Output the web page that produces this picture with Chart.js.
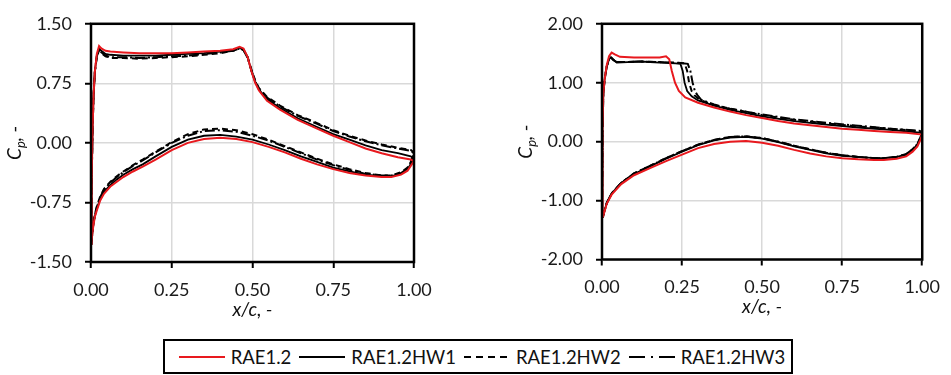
<!DOCTYPE html>
<html>
<head>
<meta charset="utf-8">
<script src="https://cdn.jsdelivr.net/npm/chart.js@4.4.1/dist/chart.umd.min.js"></script>
<style>
  body { margin: 0; background: #fff; width: 951px; height: 375px; position: relative; overflow: hidden; font-family: Lato, sans-serif; }
  #cpLeft { position: absolute; left: 0; top: 0; }
  #cpRight { position: absolute; left: 480px; top: 0; }
  #legend { position: absolute; left: 163px; top: 339px; width: 626px; height: 31px; border: 2px solid #000;
            display: flex; align-items: center; justify-content: center; font-size: 18.5px; color: #111; }
  #legend svg { margin: 0 6px 0 8px; }
</style>
</head>
<body>
<canvas id="cpLeft" width="480" height="330"></canvas>
<canvas id="cpRight" width="471" height="330"></canvas>
<div id="legend">
  <svg width="46" height="10"><line x1="0" y1="5" x2="46" y2="5" stroke="#e8191e" stroke-width="2"/></svg><span>RAE1.2</span>
  <svg width="46" height="10"><line x1="0" y1="5" x2="46" y2="5" stroke="#000" stroke-width="2"/></svg><span>RAE1.2HW1</span>
  <svg width="46" height="10"><line x1="0" y1="5" x2="46" y2="5" stroke="#000" stroke-width="2" stroke-dasharray="7,5"/></svg><span>RAE1.2HW2</span>
  <svg width="46" height="10"><line x1="0" y1="5" x2="46" y2="5" stroke="#000" stroke-width="2" stroke-dasharray="16,6,2,6"/></svg><span>RAE1.2HW3</span>
</div>
<script>
// series names
const seriesNames = ['RAE1.2', 'RAE1.2HW1', 'RAE1.2HW2', 'RAE1.2HW3'];

// axis ticks
const xTicks = [0, 0.25, 0.5, 0.75, 1];
const leftYTicks = [-1.5, -0.75, 0, 0.75, 1.5];
const rightYTicks = [-2, -1, 0, 1, 2];

// ---- left plot, [x/c, Cp] upper surface (LE -> TE) then lower surface (TE -> LE)
const leftRaeUpper = [[0,-1.27],[0.002,-0.5],[0.005,0.2],[0.008,0.6],[0.012,0.9],[0.018,1.12],[0.025,1.22],[0.032,1.19],[0.045,1.16],[0.06,1.15],[0.1,1.14],[0.15,1.13],[0.2,1.13],[0.25,1.13],[0.3,1.14],[0.35,1.15],[0.4,1.16],[0.44,1.18],[0.46,1.21],[0.472,1.19],[0.485,1.08],[0.497,0.9],[0.508,0.76],[0.52,0.66],[0.545,0.53],[0.585,0.42],[0.64,0.29],[0.7,0.18],[0.75,0.09],[0.8,0.01],[0.85,-0.07],[0.9,-0.13],[0.95,-0.18],[0.99,-0.21],[1.0,-0.23]];
const leftRaeLower = [[1.0,-0.23],[0.99,-0.29],[0.98,-0.35],[0.96,-0.4],[0.93,-0.43],[0.9,-0.43],[0.85,-0.41],[0.8,-0.38],[0.75,-0.33],[0.7,-0.27],[0.65,-0.2],[0.6,-0.12],[0.55,-0.05],[0.5,0.01],[0.45,0.05],[0.4,0.065],[0.35,0.05],[0.3,0.0],[0.25,-0.09],[0.2,-0.21],[0.16,-0.3],[0.13,-0.36],[0.1,-0.43],[0.08,-0.49],[0.06,-0.55],[0.04,-0.64],[0.028,-0.73],[0.018,-0.85],[0.012,-0.93],[0.007,-1.05],[0.004,-1.15],[0.001,-1.27],[0,-1.27]];

const leftHw1Upper = [[0,-1.27],[0.002,-0.5],[0.005,0.2],[0.008,0.6],[0.012,0.9],[0.018,1.1],[0.025,1.19],[0.032,1.16],[0.045,1.12],[0.06,1.11],[0.1,1.1],[0.15,1.1],[0.2,1.1],[0.25,1.11],[0.3,1.12],[0.35,1.13],[0.4,1.15],[0.44,1.17],[0.46,1.2],[0.472,1.18],[0.485,1.08],[0.497,0.9],[0.508,0.77],[0.52,0.67],[0.545,0.55],[0.585,0.44],[0.64,0.31],[0.7,0.2],[0.75,0.11],[0.8,0.04],[0.85,-0.03],[0.9,-0.09],[0.95,-0.13],[0.99,-0.17],[1.0,-0.2]];
const leftHw1Lower = [[1.0,-0.2],[0.99,-0.27],[0.98,-0.33],[0.96,-0.39],[0.93,-0.42],[0.9,-0.42],[0.85,-0.4],[0.8,-0.36],[0.75,-0.31],[0.7,-0.24],[0.65,-0.17],[0.6,-0.09],[0.55,-0.02],[0.5,0.04],[0.45,0.08],[0.4,0.1],[0.35,0.09],[0.3,0.04],[0.25,-0.05],[0.2,-0.17],[0.16,-0.27],[0.13,-0.33],[0.1,-0.4],[0.08,-0.46],[0.06,-0.53],[0.04,-0.62],[0.028,-0.71],[0.018,-0.83],[0.012,-0.92],[0.007,-1.04],[0.004,-1.15],[0.001,-1.27],[0,-1.27]];

const leftHw2Upper = [[0,-1.27],[0.002,-0.5],[0.005,0.2],[0.008,0.6],[0.012,0.9],[0.018,1.08],[0.025,1.17],[0.032,1.13],[0.045,1.09],[0.06,1.07],[0.1,1.07],[0.15,1.06],[0.2,1.07],[0.25,1.08],[0.3,1.09],[0.35,1.11],[0.4,1.13],[0.44,1.16],[0.46,1.19],[0.472,1.17],[0.485,1.08],[0.497,0.92],[0.508,0.79],[0.52,0.69],[0.545,0.58],[0.585,0.47],[0.64,0.35],[0.7,0.25],[0.75,0.16],[0.8,0.09],[0.85,0.03],[0.9,-0.02],[0.95,-0.06],[0.99,-0.09],[1.0,-0.12]];
const leftHw2Lower = [[1.0,-0.12],[0.99,-0.24],[0.98,-0.31],[0.96,-0.37],[0.93,-0.41],[0.9,-0.41],[0.85,-0.38],[0.8,-0.33],[0.75,-0.27],[0.7,-0.2],[0.65,-0.12],[0.6,-0.04],[0.55,0.04],[0.5,0.11],[0.45,0.16],[0.4,0.18],[0.35,0.17],[0.3,0.11],[0.25,0.01],[0.2,-0.11],[0.16,-0.21],[0.13,-0.28],[0.1,-0.36],[0.08,-0.42],[0.06,-0.49],[0.04,-0.58],[0.028,-0.68],[0.018,-0.8],[0.012,-0.9],[0.007,-1.02],[0.004,-1.14],[0.001,-1.27],[0,-1.27]];

const leftHw3Upper = [[0,-1.27],[0.002,-0.5],[0.005,0.2],[0.008,0.6],[0.012,0.9],[0.018,1.09],[0.025,1.18],[0.032,1.14],[0.045,1.1],[0.06,1.08],[0.1,1.08],[0.15,1.07],[0.2,1.08],[0.25,1.09],[0.3,1.1],[0.35,1.12],[0.4,1.14],[0.44,1.16],[0.46,1.19],[0.472,1.17],[0.485,1.07],[0.497,0.91],[0.508,0.78],[0.52,0.68],[0.545,0.57],[0.585,0.46],[0.64,0.34],[0.7,0.24],[0.75,0.15],[0.8,0.08],[0.85,0.02],[0.9,-0.03],[0.95,-0.07],[0.99,-0.1],[1.0,-0.13]];
const leftHw3Lower = [[1.0,-0.13],[0.99,-0.25],[0.98,-0.32],[0.96,-0.38],[0.93,-0.41],[0.9,-0.41],[0.85,-0.39],[0.8,-0.34],[0.75,-0.28],[0.7,-0.21],[0.65,-0.13],[0.6,-0.05],[0.55,0.03],[0.5,0.09],[0.45,0.14],[0.4,0.16],[0.35,0.15],[0.3,0.09],[0.25,0.0],[0.2,-0.12],[0.16,-0.22],[0.13,-0.29],[0.1,-0.37],[0.08,-0.43],[0.06,-0.5],[0.04,-0.59],[0.028,-0.69],[0.018,-0.81],[0.012,-0.91],[0.007,-1.03],[0.004,-1.14],[0.001,-1.27],[0,-1.27]];

// ---- right plot
const rightRaeUpper = [[0,-1.28],[0.001,-0.6],[0.002,0.2],[0.004,0.8],[0.008,1.05],[0.015,1.3],[0.022,1.45],[0.03,1.51],[0.04,1.48],[0.056,1.44],[0.1,1.43],[0.15,1.43],[0.18,1.43],[0.2,1.45],[0.21,1.4],[0.218,1.2],[0.228,1.0],[0.24,0.86],[0.26,0.75],[0.3,0.66],[0.35,0.58],[0.4,0.51],[0.45,0.45],[0.5,0.4],[0.55,0.35],[0.6,0.31],[0.65,0.28],[0.7,0.25],[0.75,0.22],[0.8,0.2],[0.85,0.18],[0.9,0.165],[0.95,0.15],[1.0,0.12]];
const rightRaeLower = [[1.0,0.12],[0.995,0.04],[0.985,-0.08],[0.97,-0.17],[0.95,-0.25],[0.92,-0.29],[0.88,-0.31],[0.85,-0.31],[0.8,-0.3],[0.75,-0.28],[0.7,-0.25],[0.65,-0.2],[0.6,-0.14],[0.55,-0.07],[0.5,-0.02],[0.45,0.01],[0.4,0.0],[0.35,-0.04],[0.3,-0.11],[0.25,-0.22],[0.2,-0.33],[0.15,-0.45],[0.1,-0.57],[0.06,-0.72],[0.03,-0.9],[0.015,-1.05],[0.007,-1.2],[0.003,-1.28],[0,-1.28]];

const rightHw1Upper = [[0,-1.28],[0.001,-0.6],[0.002,0.2],[0.004,0.8],[0.008,1.05],[0.015,1.28],[0.022,1.4],[0.028,1.43],[0.035,1.39],[0.046,1.34],[0.08,1.35],[0.12,1.36],[0.18,1.34],[0.23,1.33],[0.245,1.32],[0.252,1.2],[0.258,1.0],[0.266,0.86],[0.28,0.77],[0.3,0.7],[0.35,0.61],[0.4,0.54],[0.5,0.43],[0.6,0.35],[0.7,0.29],[0.8,0.24],[0.9,0.2],[1.0,0.15]];
const rightHw1Lower = [[1.0,0.15],[0.995,0.07],[0.985,-0.05],[0.97,-0.14],[0.95,-0.22],[0.92,-0.26],[0.88,-0.28],[0.85,-0.28],[0.8,-0.26],[0.75,-0.24],[0.7,-0.2],[0.65,-0.14],[0.6,-0.08],[0.55,-0.01],[0.5,0.05],[0.45,0.08],[0.4,0.07],[0.35,0.02],[0.3,-0.06],[0.25,-0.17],[0.2,-0.29],[0.15,-0.42],[0.1,-0.55],[0.06,-0.7],[0.03,-0.88],[0.015,-1.04],[0.007,-1.19],[0.003,-1.28],[0,-1.28]];

const rightHw2Upper = [[0,-1.28],[0.001,-0.6],[0.002,0.2],[0.004,0.8],[0.008,1.05],[0.015,1.28],[0.022,1.4],[0.028,1.43],[0.035,1.39],[0.046,1.35],[0.08,1.35],[0.12,1.36],[0.18,1.35],[0.23,1.34],[0.258,1.33],[0.266,1.2],[0.272,1.0],[0.28,0.86],[0.29,0.78],[0.305,0.71],[0.35,0.62],[0.4,0.56],[0.5,0.45],[0.6,0.37],[0.7,0.31],[0.8,0.26],[0.9,0.22],[1.0,0.17]];
const rightHw2Lower = [[1.0,0.17],[0.995,0.08],[0.985,-0.04],[0.97,-0.13],[0.95,-0.21],[0.92,-0.26],[0.88,-0.28],[0.85,-0.28],[0.8,-0.26],[0.75,-0.23],[0.7,-0.19],[0.65,-0.13],[0.6,-0.07],[0.55,0.0],[0.5,0.06],[0.45,0.09],[0.4,0.08],[0.35,0.03],[0.3,-0.05],[0.25,-0.16],[0.2,-0.28],[0.15,-0.41],[0.1,-0.54],[0.06,-0.7],[0.03,-0.88],[0.015,-1.04],[0.007,-1.19],[0.003,-1.28],[0,-1.28]];

const rightHw3Upper = [[0,-1.28],[0.001,-0.6],[0.002,0.2],[0.004,0.8],[0.008,1.05],[0.015,1.28],[0.022,1.4],[0.028,1.43],[0.035,1.39],[0.046,1.35],[0.08,1.35],[0.12,1.36],[0.18,1.35],[0.23,1.34],[0.268,1.32],[0.276,1.2],[0.283,1.0],[0.29,0.86],[0.298,0.79],[0.31,0.71],[0.35,0.63],[0.4,0.56],[0.5,0.46],[0.6,0.38],[0.7,0.32],[0.8,0.27],[0.9,0.22],[1.0,0.18]];
const rightHw3Lower = [[1.0,0.18],[0.995,0.08],[0.985,-0.04],[0.97,-0.13],[0.95,-0.21],[0.92,-0.26],[0.88,-0.28],[0.85,-0.28],[0.8,-0.26],[0.75,-0.23],[0.7,-0.19],[0.65,-0.13],[0.6,-0.07],[0.55,0.0],[0.5,0.06],[0.45,0.09],[0.4,0.08],[0.35,0.03],[0.3,-0.05],[0.25,-0.16],[0.2,-0.28],[0.15,-0.41],[0.1,-0.54],[0.06,-0.7],[0.03,-0.88],[0.015,-1.04],[0.007,-1.19],[0.003,-1.28],[0,-1.28]];

const lineStyles = [
  { color: '#e8191e', width: 2, dash: [] },
  { color: '#000', width: 1.8, dash: [] },
  { color: '#000', width: 2, dash: [6, 4] },
  { color: '#000', width: 2, dash: [10, 3, 2, 3] }
];

function toPoints(upper, lower) {
  return upper.concat(lower).map(p => ({ x: p[0], y: p[1] }));
}

// black frame round the plot area
const framePlugin = {
  id: 'frame',
  afterDraw(chart) {
    const a = chart.chartArea, ctx = chart.ctx;
    ctx.save();
    ctx.strokeStyle = '#000';
    ctx.lineWidth = 2.5;
    ctx.strokeRect(a.left, a.top, a.right - a.left, a.bottom - a.top);
    ctx.restore();
  }
};

// rotated "Cp, -" with a subscript p
const yTitlePlugin = {
  id: 'yTitle',
  afterDraw(chart) {
    const a = chart.chartArea, ctx = chart.ctx;
    const big = 'italic 19px Lato', small = 'italic 13px Lato';
    ctx.save();
    ctx.fillStyle = '#111';
    ctx.font = big; const w1 = ctx.measureText('C').width; const w3 = ctx.measureText(', -').width;
    ctx.font = small; const w2 = ctx.measureText('p').width;
    const total = w1 + w2 + w3;
    ctx.translate(a.left - 70, (a.top + a.bottom) / 2);
    ctx.rotate(-Math.PI / 2);
    ctx.textBaseline = 'alphabetic';
    let x = -total / 2;
    ctx.font = big; ctx.fillText('C', x, 0); x += w1;
    ctx.font = small; ctx.fillText('p', x, 4); x += w2;
    ctx.font = big; ctx.fillText(', -', x, 0);
    ctx.restore();
  }
};

function makeChart(id, series, yMin, yMax, yTicks, yWidth, pad) {
  const datasets = series.map((s, i) => ({
    label: seriesNames[i],
    data: toPoints(s[0], s[1]),
    showLine: true,
    borderColor: lineStyles[i].color,
    borderWidth: lineStyles[i].width,
    borderDash: lineStyles[i].dash,
    pointRadius: 0,
    tension: 0,
    fill: false
  }));
  return new Chart(document.getElementById(id), {
    type: 'scatter',
    data: { datasets: datasets },
    options: {
      responsive: false,
      animation: false,
      layout: { padding: pad },
      plugins: { legend: { display: false }, tooltip: { enabled: false } },
      scales: {
        x: {
          type: 'linear', min: 0, max: 1,
          afterBuildTicks: sc => { sc.ticks = xTicks.map(v => ({ value: v })); },
          afterFit: sc => { sc.height = 68; },
          grid: { color: '#d9d9d9', lineWidth: 1.5, tickColor: '#000', tickWidth: 2, tickLength: 6 },
          border: { display: false },
          ticks: { padding: 11, color: '#1a1a1a', font: { family: 'Lato', size: 18 }, callback: v => v.toFixed(2) },
          title: { display: true, text: 'x/c, -', color: '#111', font: { family: 'Lato', size: 19, style: 'italic' }, padding: { top: 0, bottom: 9 } }
        },
        y: {
          type: 'linear', min: yMin, max: yMax,
          afterBuildTicks: sc => { sc.ticks = yTicks.map(v => ({ value: v })); },
          afterFit: sc => { sc.width = yWidth; },
          grid: { color: '#d9d9d9', lineWidth: 1.5, tickColor: '#000', tickWidth: 2, tickLength: 6 },
          border: { display: false },
          ticks: { padding: 13, color: '#1a1a1a', font: { family: 'Lato', size: 18 }, callback: v => v.toFixed(2) }
        }
      }
    },
    plugins: [framePlugin, yTitlePlugin]
  });
}

makeChart('cpLeft',
  [[leftRaeUpper, leftRaeLower], [leftHw1Upper, leftHw1Lower], [leftHw2Upper, leftHw2Lower], [leftHw3Upper, leftHw3Lower]],
  -1.5, 1.5, leftYTicks, 91, { left: 0, right: 66, top: 17, bottom: 0 });

makeChart('cpRight',
  [[rightRaeUpper, rightRaeLower], [rightHw1Upper, rightHw1Lower], [rightHw2Upper, rightHw2Lower], [rightHw3Upper, rightHw3Lower]],
  -2, 2, rightYTicks, 122, { left: 0, right: 24, top: 17, bottom: 2.5 });
</script>
</body>
</html>
